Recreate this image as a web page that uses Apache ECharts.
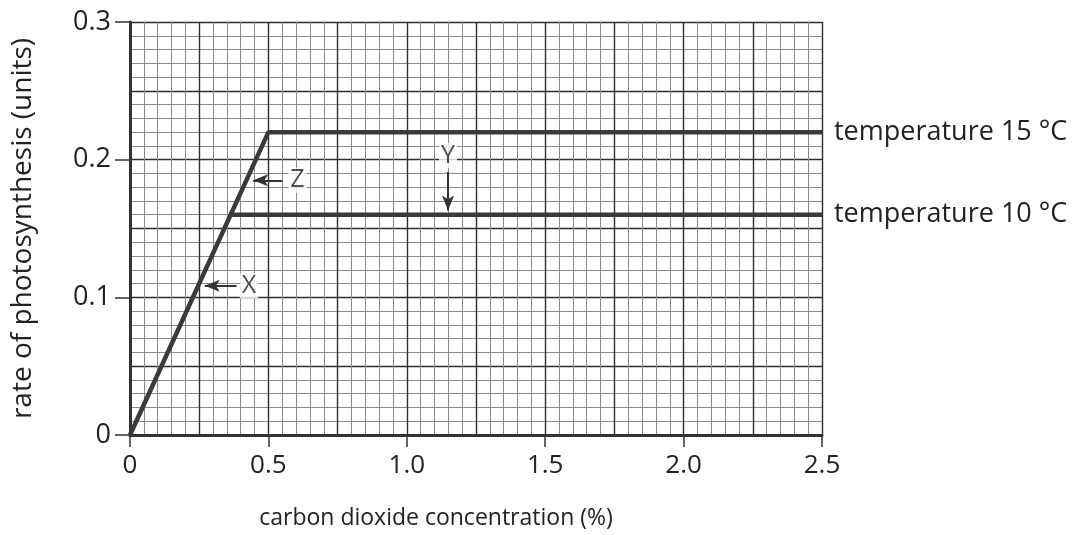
<!DOCTYPE html>
<html>
<head>
<meta charset="utf-8">
<script src="https://cdn.jsdelivr.net/npm/echarts@6/dist/echarts.min.js"></script>
<style>
html,body{margin:0;padding:0;background:#fff;}
#chart{width:1084px;height:535px;}
</style>
</head>
<body>
<div id="chart"></div>
<script>
// ---- data ----
const co2_15 = [0, 0.5, 2.5];
const rate_15 = [0, 0.22, 0.22];
const co2_10 = [0.364, 2.5];
const rate_10 = [0.16, 0.16];
const seriesNames = ['temperature 15 °C', 'temperature 10 °C'];
const xTickLabels = ['0', '0.5', '1.0', '1.5', '2.0', '2.5'];
const yTickLabels = ['0', '0.1', '0.2', '0.3'];
const xAxisName = 'carbon dioxide concentration (%)';
const yAxisName = 'rate of photosynthesis (units)';
// annotation letters: [x, y, text]
const letters = [[0.43, 0.1084, 'X'], [0.605, 0.185, 'Z'], [1.149, 0.203, 'Y']];
// annotation arrows: [fromX, fromY, toX, toY]
const arrows = [[0.385, 0.1084, 0.27, 0.1084], [0.55, 0.185, 0.445, 0.185], [1.149, 0.191, 1.149, 0.163]];

const FONT = '"Open Sans", "DejaVu Sans", sans-serif';
const TXT = '#222';
const LINE = '#3a3a3a';

const chart = echarts.init(document.getElementById('chart'), null, {renderer: 'canvas'});

const option = {
  animation: false,
  backgroundColor: '#fff',
  grid: {left: 130, right: 262, top: 22, bottom: 98, containLabel: false},
  xAxis: [
    {
      type: 'value', min: 0, max: 2.5, interval: 0.5,
      axisLine: {show: true, onZero: false, lineStyle: {color: '#333', width: 3}},
      axisTick: {show: true, inside: false, length: 12, lineStyle: {color: '#333', width: 1.5}},
      axisLabel: {fontFamily: FONT, fontSize: 26, color: TXT, margin: 18,
        formatter: v => xTickLabels[Math.round(v / 0.5)]},
      splitLine: {show: false},
      name: xAxisName, nameLocation: 'middle', nameGap: 72,
      nameTextStyle: {fontFamily: FONT, fontSize: 23, color: TXT, padding: [0, 80, 0, 0]},
      z: 5
    },
    {
      type: 'value', min: 0, max: 2.5, interval: 0.25, position: 'top',
      axisLine: {show: false}, axisTick: {show: false}, axisLabel: {show: false},
      splitLine: {show: true, lineStyle: {color: '#2e2e2e', width: 1.4}},
      minorTick: {show: false, splitNumber: 5},
      minorSplitLine: {show: true, lineStyle: {color: '#8a8a8a', width: 1}}
    }
  ],
  yAxis: [
    {
      type: 'value', min: 0, max: 0.3, interval: 0.1,
      axisLine: {show: true, onZero: false, lineStyle: {color: '#333', width: 3}},
      axisTick: {show: true, inside: false, length: 15, lineStyle: {color: '#333', width: 1.5}},
      axisLabel: {fontFamily: FONT, fontSize: 27, color: TXT, margin: 19,
        formatter: v => yTickLabels[Math.round(v / 0.1)]},
      splitLine: {show: false},
      name: yAxisName, nameLocation: 'middle', nameGap: 93, nameRotate: 90,
      nameTextStyle: {fontFamily: FONT, fontSize: 28, color: TXT},
      z: 5
    },
    {
      type: 'value', min: 0, max: 0.3, interval: 0.05, position: 'right',
      axisLine: {show: false}, axisTick: {show: false}, axisLabel: {show: false},
      splitLine: {show: true, lineStyle: {color: '#2e2e2e', width: 1.4}},
      minorTick: {show: false, splitNumber: 5},
      minorSplitLine: {show: true, lineStyle: {color: '#8a8a8a', width: 1}}
    }
  ],
  series: [
    {
      name: seriesNames[0], type: 'line', xAxisIndex: 0, yAxisIndex: 0,
      data: co2_15.map((x, i) => [x, rate_15[i]]),
      showSymbol: false, symbol: 'none', z: 10,
      lineStyle: {color: LINE, width: 4.5},
      itemStyle: {color: LINE},
      endLabel: {show: true, formatter: seriesNames[0], fontFamily: FONT, fontSize: 27, color: TXT, distance: 12}
    },
    {
      name: seriesNames[1], type: 'line', xAxisIndex: 0, yAxisIndex: 0,
      data: co2_10.map((x, i) => [x, rate_10[i]]),
      showSymbol: false, symbol: 'none', z: 10,
      lineStyle: {color: LINE, width: 4.5},
      itemStyle: {color: LINE},
      endLabel: {show: true, formatter: seriesNames[1], fontFamily: FONT, fontSize: 27, color: TXT, distance: 12},
      markLine: {
        silent: true, animation: false,
        symbol: ['none', 'arrow'], symbolSize: [9, 15],
        label: {show: false},
        lineStyle: {color: '#333', width: 2, type: 'solid'},
        data: arrows.map(a => [{coord: [a[0], a[1]]}, {coord: [a[2], a[3]]}])
      }
    },
    {
      type: 'scatter', xAxisIndex: 0, yAxisIndex: 0, symbolSize: 1, z: 11,
      itemStyle: {color: 'rgba(0,0,0,0)'},
      data: letters,
      label: {show: true, position: 'inside', formatter: p => p.data[2],
        fontFamily: FONT, fontSize: 25, color: '#222', backgroundColor: '#fff', padding: [0, 2]}
    }
  ]
};
chart.setOption(option);
</script>
</body>
</html>
